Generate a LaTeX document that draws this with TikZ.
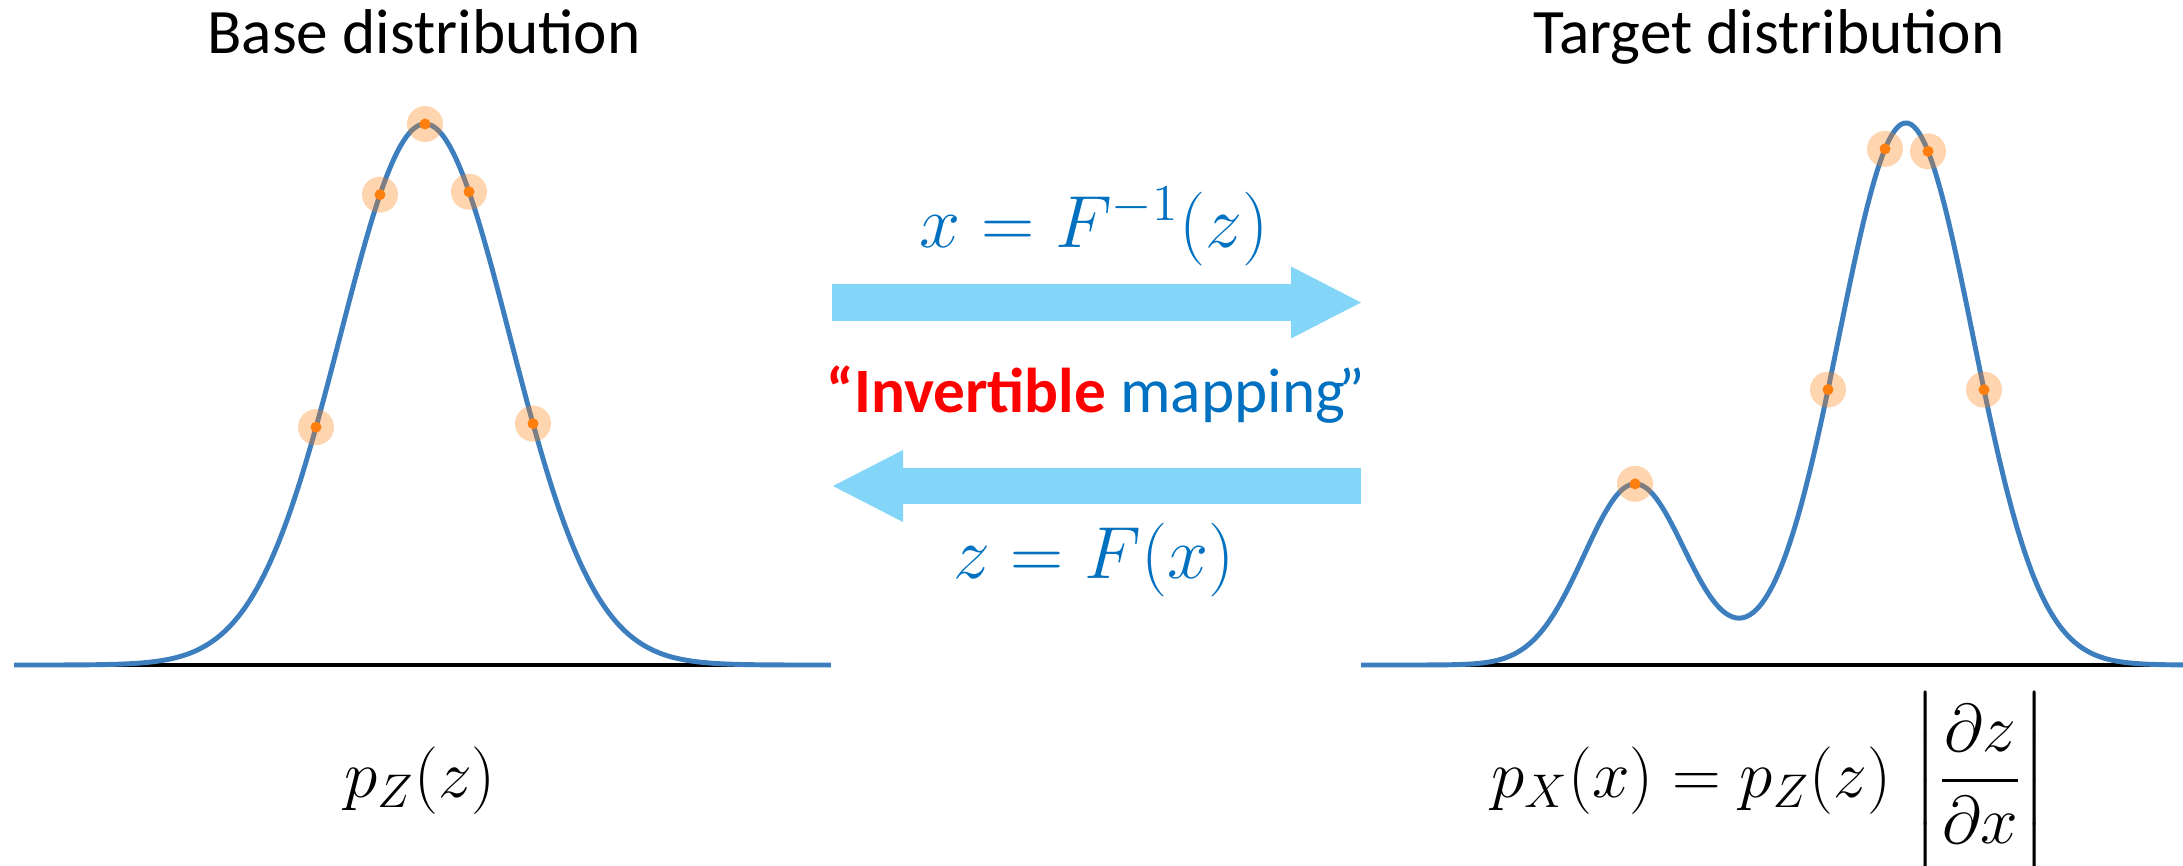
\RequirePackage{fix-cm}
\documentclass[tikz,border=0pt]{standalone}
\usepackage{amsmath}
\usepackage[no-math]{fontspec}
\newfontfamily\slidefont{Carlito}
\usepackage{tikz}
\usetikzlibrary{arrows.meta}
\definecolor{curveblue}{HTML}{3D7EBF}
\definecolor{dotorange}{HTML}{FF7F0E}
\definecolor{arrowblue}{HTML}{83D6F7}
\definecolor{mathblue}{HTML}{0070C0}
\definecolor{invred}{HTML}{FF0000}

\tikzset{
    pdfcurve/.style={curveblue, line width=1.4pt, samples=240, smooth},
    axisline/.style={black, line width=0.9pt},
    halo/.style={fill=dotorange, fill opacity=0.33},
    bigarrow/.style={arrowblue, line width=3.65mm,
        -{Triangle[length=7mm, width=7.2mm, line width=0pt]}},
    disttitle/.style={font=\slidefont\fontsize{18}{22}\selectfont, anchor=base},
    mathlabel/.style={font=\fontsize{21}{25}\selectfont, anchor=base},
    pdflabel/.style={font=\fontsize{19.2}{23}\selectfont, anchor=base},
}

\begin{document}
\begin{tikzpicture}[
    declare function={
        basepdf(\t) = 2 + 5.41*exp(-0.5*((\t-4.25)/0.85)^2);
        targetpdf(\t) = 2 + 1.81*exp(-0.5*((\t-16.35)/0.51)^2)
                          + 5.42*exp(-0.5*((\t-19.06)/0.67)^2);
    }]
    \useasboundingbox (0, 0) rectangle (21.83, 8.65);

    % base distribution
    \draw[axisline] (0.14, 2) -- (8.31, 2);
    \draw[pdfcurve, domain=0.14:8.31] plot (\x, {basepdf(\x)});
    \fill[halo] (3.16, {basepdf(3.16)}) circle (0.18);
    \fill[halo] (3.80, {basepdf(3.80)}) circle (0.18);
    \fill[halo] (4.25, {basepdf(4.25)}) circle (0.18);
    \fill[halo] (4.69, {basepdf(4.69)}) circle (0.18);
    \fill[halo] (5.33, {basepdf(5.33)}) circle (0.18);
    \fill[dotorange] (3.16, {basepdf(3.16)}) circle (0.055);
    \fill[dotorange] (3.80, {basepdf(3.80)}) circle (0.055);
    \fill[dotorange] (4.25, {basepdf(4.25)}) circle (0.055);
    \fill[dotorange] (4.69, {basepdf(4.69)}) circle (0.055);
    \fill[dotorange] (5.33, {basepdf(5.33)}) circle (0.055);

    % target distribution
    \draw[axisline] (13.61, 2) -- (21.83, 2);
    \draw[pdfcurve, domain=13.61:21.83] plot (\x, {targetpdf(\x)});
    \fill[halo] (16.35, {targetpdf(16.35)}) circle (0.18);
    \fill[halo] (18.28, {targetpdf(18.28)}) circle (0.18);
    \fill[halo] (18.85, {targetpdf(18.85)}) circle (0.18);
    \fill[halo] (19.28, {targetpdf(19.28)}) circle (0.18);
    \fill[halo] (19.84, {targetpdf(19.84)}) circle (0.18);
    \fill[dotorange] (16.35, {targetpdf(16.35)}) circle (0.055);
    \fill[dotorange] (18.28, {targetpdf(18.28)}) circle (0.055);
    \fill[dotorange] (18.85, {targetpdf(18.85)}) circle (0.055);
    \fill[dotorange] (19.28, {targetpdf(19.28)}) circle (0.055);
    \fill[dotorange] (19.84, {targetpdf(19.84)}) circle (0.055);

    % mapping arrows
    \coordinate (fwdstart) at (8.32, 5.625);
    \coordinate (fwdend) at (13.61, 5.625);
    \coordinate (bwdstart) at (13.61, 3.79);
    \coordinate (bwdend) at (8.33, 3.79);
    \draw[bigarrow] (fwdstart) -- (fwdend);
    \draw[bigarrow] (bwdstart) -- (bwdend);

    % labels
    \node[disttitle] (basetitle) at (4.24, 8.11) {Base distribution};
    \node[disttitle] (targettitle) at (17.69, 8.11) {Target distribution};
    \node[mathlabel, mathblue] (fwdmap) at (10.94, 6.18) {$x = F^{-1}(z)$};
    \node[disttitle, mathblue] (invlabel) at (10.96, 4.53)
        {\textcolor{invred}{\bfseries “Invertible} mapping\kern-0.1em”};
    \node[mathlabel, mathblue] (bwdmap) at (10.94, 2.87) {$z = F(x)$};
    \node[pdflabel] (basepdflabel) at (4.20, 0.68) {$p_Z(z)$};
    \node[pdflabel] (targetpdflabel) at (17.69, 0.68)
        {$p_X(x) = p_Z(z)\,\left|\rule[-0.62cm]{0pt}{1.6cm}\dfrac{\partial z}{\partial x}\right|$};
\end{tikzpicture}
\end{document}
